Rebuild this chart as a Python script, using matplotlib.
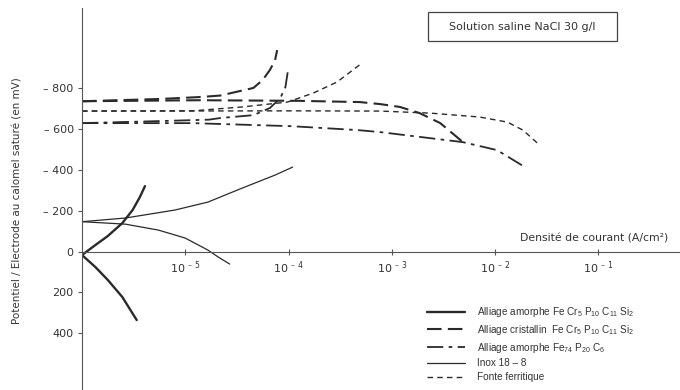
import matplotlib.pyplot as plt
import matplotlib.patches as patches
import numpy as np

plt.rcParams['font.family'] = ['DejaVu Sans']
plt.rcParams['mathtext.default'] = 'regular'

# values: log10 of current density (A/cm2) and potential (mV / ECS)
# Alliage amorphe Fe Cr5 P10 C11 Si2
amcr_up_logj = [-6.0, -5.87, -5.75, -5.61, -5.51, -5.44, -5.39]
amcr_up_mv = [17, -32, -76, -139, -203, -266, -320]
amcr_dn_logj = [-6.0, -5.87, -5.75, -5.61, -5.47]
amcr_dn_mv = [17, 76, 139, 222, 335]

# Alliage cristallin Fe Cr5 P10 C11 Si2
cris_up_logj = [-6.0, -5.25, -4.84, -4.66, -4.34, -4.25, -4.18, -4.13, -4.11]
cris_up_mv = [-735, -746, -756, -763, -800, -839, -888, -936, -985]
cris_dn_logj = [-6.0, -4.87, -3.90, -3.31, -3.11, -2.92, -2.73, -2.53, -2.31]
cris_dn_mv = [-735, -740, -737, -731, -721, -707, -677, -628, -535]

# Alliage amorphe Fe74 P20 C6
am74_up_logj = [-6.0, -5.25, -4.77, -4.66, -4.34, -4.18, -4.08, -4.03, -4.00]
am74_up_mv = [-628, -638, -645, -653, -667, -702, -750, -804, -902]
am74_dn_logj = [-6.0, -4.93, -3.97, -3.33, -3.11, -2.31, -1.98, -1.71]
am74_dn_mv = [-628, -628, -613, -594, -584, -535, -496, -413]

# Inox 18-8
inox_up_logj = [-6.0, -5.58, -5.10, -4.78, -4.45, -4.13, -3.96]
inox_up_mv = [-146, -164, -203, -242, -310, -374, -413]
inox_dn_logj = [-6.0, -5.58, -5.26, -5.00, -4.78, -4.68, -4.57]
inox_dn_mv = [-146, -134, -105, -66, -7, 27, 61]

# Fonte ferritique
fonte_up_logj = [-6.0, -4.93, -4.45, -4.01, -3.76, -3.53, -3.29]
fonte_up_mv = [-687, -688, -707, -731, -775, -829, -921]
fonte_dn_logj = [-6.0, -3.90, -3.11, -2.63, -2.15, -1.88, -1.73, -1.58]
fonte_dn_mv = [-687, -688, -687, -677, -658, -633, -594, -526]

labels = [
    'Alliage amorphe Fe Cr$_5$ P$_{10}$ C$_{11}$ Si$_2$',
    'Alliage cristallin  Fe Cr$_5$ P$_{10}$ C$_{11}$ Si$_2$',
    'Alliage amorphe Fe$_{74}$ P$_{20}$ C$_6$',
    'Inox 18 – 8',
    'Fonte ferritique',
]
yticks = [-800, -600, -400, -200, 0, 200, 400]
yticklabels = ['– 800', '– 600', '– 400', '– 200', '0', '200', '400']
xtick_exp = [-5, -4, -3, -2, -1]

ink = '#2a2a2a'
fig = plt.figure(figsize=(6.8, 3.9), dpi=100)
ax = fig.add_axes([82 / 680, 0.0, 598 / 680, 1 - 8 / 390])

def curve(logj, mv, **kw):
    return ax.plot(10 ** np.array(logj), mv, color=ink, solid_capstyle='round', **kw)[0]

h1 = curve(amcr_up_logj, amcr_up_mv, lw=1.7)
curve(amcr_dn_logj, amcr_dn_mv, lw=1.7)
h2 = curve(cris_up_logj, cris_up_mv, lw=1.5, dashes=(7, 3))
curve(cris_dn_logj, cris_dn_mv, lw=1.5, dashes=(7, 3))
h3 = curve(am74_up_logj, am74_up_mv, lw=1.3, dashes=(9, 3, 2, 3))
curve(am74_dn_logj, am74_dn_mv, lw=1.3, dashes=(9, 3, 2, 3))
h4 = curve(inox_up_logj, inox_up_mv, lw=0.9)
curve(inox_dn_logj, inox_dn_mv, lw=0.9)
h5 = curve(fonte_up_logj, fonte_up_mv, lw=1.0, dashes=(4, 3))
curve(fonte_dn_logj, fonte_dn_mv, lw=1.0, dashes=(4, 3))

ax.set_xscale('log')
ax.set_xlim(1e-6, 10 ** (-6 + 598 / 103.25))
ax.set_ylim(677, -1191)

for s in ['top', 'right']:
    ax.spines[s].set_visible(False)
ax.spines['bottom'].set_position(('data', 0))
ax.spines['left'].set_color('#555555')
ax.spines['bottom'].set_color('#555555')

ax.set_yticks(yticks)
ax.set_yticklabels(yticklabels)
ax.set_xticks([10.0 ** e for e in xtick_exp])
ax.set_xticklabels(['10 $^{–\\ %d}$' % -e for e in xtick_exp])
ax.xaxis.set_minor_locator(plt.NullLocator())
ax.tick_params(axis='y', direction='out', length=3, width=0.8, colors='#555555',
               labelcolor='#333333', labelsize=8, pad=3)
ax.tick_params(axis='x', direction='inout', length=5, width=0.8, colors='#555555',
               labelcolor='#333333', labelsize=8, pad=3)

fig.text(18 / 680, 1 - 201 / 390, 'Potentiel / Electrode au calomel saturé (en mV)',
         rotation=90, ha='center', va='center', fontsize=7.5, color='#333333')
fig.text(520 / 680, 1 - 238 / 390, 'Densité de courant (A/cm²)',
         ha='left', va='center', fontsize=7.8, color='#333333')

fig.patches.append(patches.Rectangle((428 / 680, 1 - 41 / 390), 189 / 680, 29 / 390,
                                     transform=fig.transFigure, fill=False,
                                     edgecolor='#444444', lw=0.9))
fig.text(522 / 680, 1 - 26.5 / 390, 'Solution saline NaCl 30 g/l',
         ha='center', va='center', fontsize=8, color='#333333')

ax.legend([h1, h2, h3, h4, h5], labels, loc='upper left',
          bbox_to_anchor=(427 / 680, 1 - 305 / 390), bbox_transform=fig.transFigure,
          frameon=False, prop={'family': 'Liberation Sans', 'size': 7.2},
          handlelength=3.8, labelspacing=0.38, handletextpad=1.2, borderpad=0,
          borderaxespad=0, labelcolor='#333333')

fig.savefig('out.png', dpi=100)
